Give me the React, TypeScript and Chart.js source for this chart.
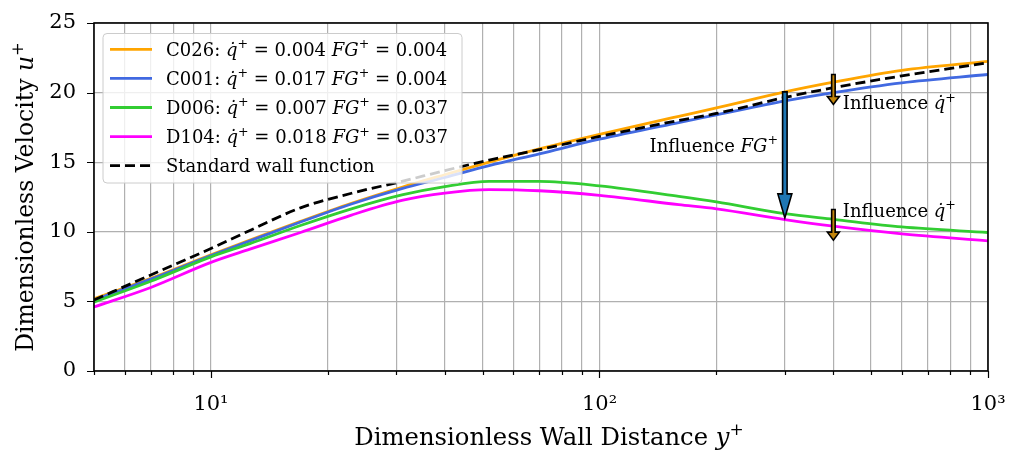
import React, { useEffect, useRef } from 'react';
import { Chart, registerables } from 'chart.js';

Chart.register(...registerables);

// ---- data ----
const yPlus = [5, 7, 10, 12.6, 17, 23, 31, 40, 52, 70, 100, 160, 200, 300, 400, 600, 1000];
const c026 = [5.2, 6.65, 8.35, 9.4, 10.75, 12.05, 13.2, 14.1, 15.0, 15.95, 17.0, 18.3, 18.9, 20.05, 20.75, 21.6, 22.25];
const c001 = [5.1, 6.6, 8.3, 9.35, 10.7, 12.0, 13.1, 13.9, 14.75, 15.6, 16.65, 17.85, 18.4, 19.4, 20.0, 20.7, 21.3];
const d006 = [4.95, 6.45, 8.2, 9.15, 10.45, 11.65, 12.65, 13.25, 13.62, 13.62, 13.3, 12.55, 12.15, 11.3, 10.9, 10.35, 9.95];
const d104 = [4.6, 6.0, 7.8, 8.75, 9.95, 11.2, 12.25, 12.78, 13.03, 12.95, 12.62, 11.95, 11.65, 10.88, 10.4, 9.85, 9.35];
const wallFn = [5.1, 6.9, 8.8, 10.1, 11.72, 12.77, 13.62, 14.4, 15.15, 15.9, 16.85, 18.0, 18.5, 19.65, 20.35, 21.2, 22.15];

const caseNames = ['C026', 'C001', 'D006', 'D104'];
const qDotValues = ['0.004', '0.017', '0.007', '0.018'];
const fgValues = ['0.004', '0.004', '0.037', '0.037'];
const wallFnLabel = 'Standard wall function';

const xTickValues = [5, 6, 7, 8, 9, 10, 20, 30, 40, 50, 60, 70, 80, 90, 100, 200, 300, 400, 500, 600, 700, 800, 900, 1000];
const xTickLabels: Record<number, string> = { 10: '10\u00b9', 100: '10\u00b2', 1000: '10\u00b3' };
const yTickValues = [0, 5, 10, 15, 20, 25];

// annotation arrows (data coordinates)
const arrowX = [300, 400, 400];
const arrowFrom = [20.05, 21.3, 11.6];
const arrowTo = [11.0, 19.15, 9.4];

const xTitle = 'Dimensionless Wall Distance ';
const yTitle = 'Dimensionless Velocity ';

const FONT = '"DejaVu Serif", serif';
const colors = ['#ffa500', '#4169e1', '#32cd32', '#ff00ff'];
const seriesValues = [c026, c001, d006, d104];

type Seg = { t: string; it?: boolean; sup?: boolean };

function segFont(s: Seg, size: number) {
  const sz = s.sup ? size * 0.7 : size;
  return `${s.it ? 'italic ' : ''}${sz}px ${FONT}`;
}

function richWidth(ctx: CanvasRenderingContext2D, segs: Seg[], size: number) {
  let w = 0;
  for (const s of segs) {
    ctx.font = segFont(s, size);
    w += ctx.measureText(s.t).width;
  }
  return w;
}

function drawRich(ctx: CanvasRenderingContext2D, segs: Seg[], x: number, y: number, size: number, align: 'left' | 'center' | 'right' = 'left') {
  const w = richWidth(ctx, segs, size);
  let cx = align === 'left' ? x : align === 'center' ? x - w / 2 : x - w;
  ctx.save();
  ctx.textAlign = 'left';
  ctx.textBaseline = 'alphabetic';
  ctx.fillStyle = '#000';
  for (const s of segs) {
    ctx.font = segFont(s, size);
    const yy = s.sup ? y - size * 0.42 : y;
    ctx.fillText(s.t, cx, yy);
    cx += ctx.measureText(s.t).width;
  }
  ctx.restore();
}

function drawArrow(ctx: CanvasRenderingContext2D, x: number, yTop: number, yTip: number, shaftW: number, headW: number, headL: number, fill: string) {
  ctx.save();
  ctx.beginPath();
  ctx.moveTo(x - shaftW / 2, yTop);
  ctx.lineTo(x + shaftW / 2, yTop);
  ctx.lineTo(x + shaftW / 2, yTip - headL);
  ctx.lineTo(x + headW / 2, yTip - headL);
  ctx.lineTo(x, yTip);
  ctx.lineTo(x - headW / 2, yTip - headL);
  ctx.lineTo(x - shaftW / 2, yTip - headL);
  ctx.closePath();
  ctx.fillStyle = fill;
  ctx.fill();
  ctx.lineWidth = 1.6;
  ctx.strokeStyle = '#000';
  ctx.lineJoin = 'miter';
  ctx.stroke();
  ctx.restore();
}

const customPlugin = {
  id: 'custom',
  beforeDraw(chart: any) {
    const ctx = chart.ctx;
    ctx.save();
    ctx.fillStyle = '#fff';
    ctx.fillRect(0, 0, chart.width, chart.height);
    ctx.restore();
  },
  afterDatasetsDraw(chart: any) {
    const ctx: CanvasRenderingContext2D = chart.ctx;
    const xs = chart.scales.x;
    const ys = chart.scales.y;
    const area = chart.chartArea;

    // arrows
    ctx.save();
    ctx.beginPath();
    ctx.rect(area.left, area.top, area.right - area.left, area.bottom - area.top);
    ctx.clip();
    arrowX.forEach((ax, i) => {
      const px = xs.getPixelForValue(ax);
      const y1 = ys.getPixelForValue(arrowFrom[i]);
      const y2 = ys.getPixelForValue(arrowTo[i]);
      if (i === 0) drawArrow(ctx, px, y1, y2, 4.5, 14, 24, '#1f77b4');
      else drawArrow(ctx, px, y1, y2, 3.5, 12, 8, '#c2850c');
    });
    ctx.restore();

    // annotation texts
    const ts = 18;
    drawRich(ctx, [{ t: 'Influence ' }, { t: 'FG', it: true }, { t: '+', sup: true }], xs.getPixelForValue(288), ys.getPixelForValue(15.73), ts, 'right');
    const qSegs: Seg[] = [{ t: 'Influence ' }, { t: 'q\u0307', it: true }, { t: '+', sup: true }];
    drawRich(ctx, qSegs, xs.getPixelForValue(423), ys.getPixelForValue(18.79), ts, 'left');
    drawRich(ctx, qSegs, xs.getPixelForValue(423), ys.getPixelForValue(11.06), ts, 'left');

    // tick marks
    ctx.save();
    ctx.strokeStyle = '#000';
    ctx.lineWidth = 1.2;
    ctx.beginPath();
    xTickValues.forEach((v) => {
      const px = Math.round(xs.getPixelForValue(v)) + 0.5;
      const len = xTickLabels[v] ? 7 : 4;
      ctx.moveTo(px, area.bottom);
      ctx.lineTo(px, area.bottom + len);
    });
    yTickValues.forEach((v) => {
      const py = Math.round(ys.getPixelForValue(v)) + 0.5;
      ctx.moveTo(area.left - 7, py);
      ctx.lineTo(area.left, py);
    });
    ctx.stroke();
    // frame
    ctx.lineWidth = 1.6;
    ctx.strokeRect(area.left, area.top, area.right - area.left, area.bottom - area.top);
    ctx.restore();

    // legend
    ctx.save();
    const lx = 103, ly = 33.5, lw = 359, lh = 149.5, r = 4;
    ctx.beginPath();
    ctx.moveTo(lx + r, ly);
    ctx.arcTo(lx + lw, ly, lx + lw, ly + lh, r);
    ctx.arcTo(lx + lw, ly + lh, lx, ly + lh, r);
    ctx.arcTo(lx, ly + lh, lx, ly, r);
    ctx.arcTo(lx, ly, lx + lw, ly, r);
    ctx.closePath();
    ctx.fillStyle = 'rgba(255,255,255,0.8)';
    ctx.fill();
    ctx.strokeStyle = '#cccccc';
    ctx.lineWidth = 1;
    ctx.stroke();
    const rowY = (i: number) => 49.3 + i * 29.1;
    const fs = 18;
    for (let i = 0; i < 5; i++) {
      const yy = rowY(i);
      ctx.beginPath();
      ctx.moveTo(110, yy);
      ctx.lineTo(152, yy);
      ctx.lineWidth = 2.8;
      ctx.lineCap = 'butt';
      if (i < 4) {
        ctx.strokeStyle = colors[i];
        ctx.setLineDash([]);
      } else {
        ctx.strokeStyle = '#000';
        ctx.setLineDash([10, 5]);
      }
      ctx.stroke();
      ctx.setLineDash([]);
      const segs: Seg[] = i < 4
        ? [{ t: `${caseNames[i]}: ` }, { t: 'q\u0307', it: true }, { t: '+', sup: true }, { t: ` = ${qDotValues[i]} ` }, { t: 'FG', it: true }, { t: '+', sup: true }, { t: ` = ${fgValues[i]}` }]
        : [{ t: wallFnLabel }];
      drawRich(ctx, segs, 166, yy + 6.5, fs, 'left');
    }
    ctx.restore();
  },
  afterDraw(chart: any) {
    const ctx: CanvasRenderingContext2D = chart.ctx;
    const area = chart.chartArea;
    drawRich(ctx, [{ t: xTitle }, { t: 'y', it: true }, { t: '+', sup: true }], 549, 445, 24.3, 'center');
    ctx.save();
    ctx.translate(33, (area.top + area.bottom) / 2);
    ctx.rotate(-Math.PI / 2);
    drawRich(ctx, [{ t: yTitle }, { t: 'u', it: true }, { t: '+', sup: true }], 0, 0, 23.5, 'center');
    ctx.restore();
  },
};

export default function App() {
  const ref = useRef<HTMLCanvasElement>(null);
  useEffect(() => {
    if (!ref.current) return;
    const datasets: any[] = seriesValues.map((vals, i) => ({
      label: caseNames[i],
      data: yPlus.map((x, j) => ({ x, y: vals[j] })),
      borderColor: colors[i],
      backgroundColor: colors[i],
      borderWidth: 2.8,
      pointRadius: 0,
      cubicInterpolationMode: 'monotone',
      order: 5 - i,
    }));
    datasets.push({
      label: wallFnLabel,
      data: yPlus.map((x, j) => ({ x, y: wallFn[j] })),
      borderColor: '#000',
      backgroundColor: '#000',
      borderWidth: 2.8,
      borderDash: [10, 5],
      pointRadius: 0,
      cubicInterpolationMode: 'monotone',
      order: 0,
    });
    const chart = new Chart(ref.current, {
      type: 'line',
      data: { datasets },
      plugins: [customPlugin],
      options: {
        animation: false,
        responsive: false,
        devicePixelRatio: 1,
        events: [],
        layout: { padding: { left: 0, right: 21, top: 23, bottom: 0 } },
        plugins: { legend: { display: false }, tooltip: { enabled: false } },
        scales: {
          x: {
            type: 'logarithmic',
            min: 5,
            max: 1000,
            afterBuildTicks: (scale: any) => {
              scale.ticks = xTickValues.map((v) => ({ value: v, major: !!xTickLabels[v] }));
            },
            afterFit: (scale: any) => {
              scale.height = 79;
              scale.paddingLeft = 0;
              scale.paddingRight = 0;
            },
            grid: { color: '#b0b0b0', lineWidth: 1.2, drawTicks: false },
            border: { display: false },
            ticks: {
              autoSkip: false,
              maxRotation: 0,
              minRotation: 0,
              padding: 21,
              color: '#000',
              font: { family: 'DejaVu Serif', size: 21 },
              callback: (v: any) => xTickLabels[Number(v)] || '',
            },
          },
          y: {
            type: 'linear',
            min: 0,
            max: 25,
            afterBuildTicks: (scale: any) => {
              scale.ticks = yTickValues.map((v) => ({ value: v }));
            },
            afterFit: (scale: any) => {
              scale.width = 94;
              scale.paddingTop = 0;
              scale.paddingBottom = 0;
            },
            grid: { color: '#b0b0b0', lineWidth: 1.2, drawTicks: false },
            border: { display: false },
            ticks: {
              padding: 18,
              color: '#000',
              font: { family: 'DejaVu Serif', size: 21 },
              callback: (v: any) => String(v),
            },
          },
        },
      } as any,
    });
    return () => chart.destroy();
  }, []);
  return (
    <div style={{ position: 'absolute', left: 0, top: 0, width: 1009, height: 450, background: '#fff' }}>
      <canvas ref={ref} width={1009} height={450} style={{ display: 'block', width: 1009, height: 450 }} />
    </div>
  );
}
